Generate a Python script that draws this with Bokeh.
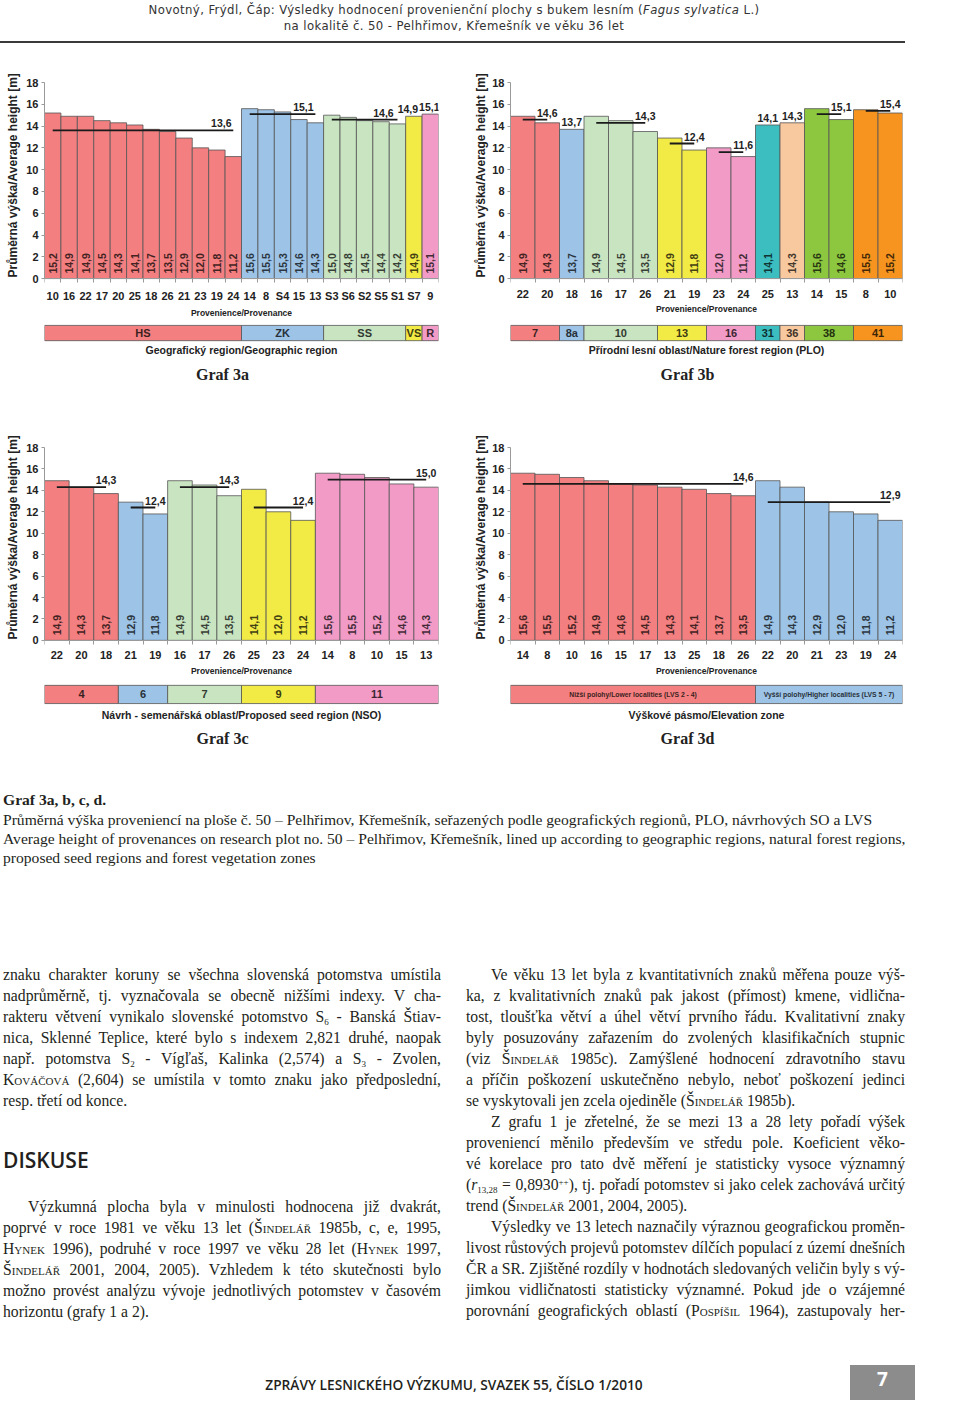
import numpy as np
from bokeh.plotting import figure
from bokeh.models import FixedTicker, Range1d, Div, ColumnDataSource, Title
from bokeh.layouts import column, row
from bokeh.embed import file_html
from bokeh.resources import INLINE
from bokeh.core.properties import value

# ---------------- data ----------------
# Graf 3a - geographic region
a_labels = ["10", "16", "22", "17", "20", "25", "18", "26", "21", "23", "19", "24",
            "14", "8", "S4", "15", "13", "S3", "S6", "S2", "S5", "S1", "S7", "9"]
a_values = [15.2, 14.9, 14.9, 14.5, 14.3, 14.1, 13.7, 13.5, 12.9, 12.0, 11.8, 11.2,
            15.6, 15.5, 15.3, 14.6, 14.3, 15.0, 14.8, 14.5, 14.4, 14.2, 14.9, 15.1]
a_groups = ["HS", "ZK", "SS", "VS", "R"]
a_sizes = [12, 5, 5, 1, 1]
a_means = [13.6, 15.1, 14.6, 14.9, 15.1]

# Graf 3b - natural forest region (PLO)
b_labels = ["22", "20", "18", "16", "17", "26", "21", "19", "23", "24", "25", "13", "14", "15", "8", "10"]
b_values = [14.9, 14.3, 13.7, 14.9, 14.5, 13.5, 12.9, 11.8, 12.0, 11.2, 14.1, 14.3, 15.6, 14.6, 15.5, 15.2]
b_groups = ["7", "8a", "10", "13", "16", "31", "36", "38", "41"]
b_sizes = [2, 1, 3, 2, 2, 1, 1, 2, 2]
b_means = [14.6, 13.7, 14.3, 12.4, 11.6, 14.1, 14.3, 15.1, 15.4]

# Graf 3c - proposed seed region (NSO)
c_labels = ["22", "20", "18", "21", "19", "16", "17", "26", "25", "23", "24", "14", "8", "10", "15", "13"]
c_values = [14.9, 14.3, 13.7, 12.9, 11.8, 14.9, 14.5, 13.5, 14.1, 12.0, 11.2, 15.6, 15.5, 15.2, 14.6, 14.3]
c_groups = ["4", "6", "7", "9", "11"]
c_sizes = [3, 2, 3, 3, 5]
c_means = [14.3, 12.4, 14.3, 12.4, 15.0]

# Graf 3d - elevation zone
d_labels = ["14", "8", "10", "16", "15", "17", "13", "25", "18", "26", "22", "20", "21", "23", "19", "24"]
d_values = [15.6, 15.5, 15.2, 14.9, 14.6, 14.5, 14.3, 14.1, 13.7, 13.5, 14.9, 14.3, 12.9, 12.0, 11.8, 11.2]
d_groups = ["Nižší polohy/Lower localities (LVS 2 - 4)", "Vyšší polohy/Higher localities (LVS 5 - 7)"]
d_sizes = [10, 6]
d_means = [14.6, 12.9]

y_ticks = [0, 2, 4, 6, 8, 10, 12, 14, 16, 18]

# ---------------- styles ----------------
RED = "#F37F80"
BLUE = "#9DC3E6"
LGREEN = "#C8E4C1"
YELLOW = "#F2EA45"
PINK = "#F29BC7"
TEAL = "#3CBEC0"
PEACH = "#F8C89F"
GREEN = "#8DC63F"
ORANGE = "#F6941F"

SANS = "Liberation Sans"
SERIF = "Liberation Serif"


def darken(h, f=0.28):
    h = h.lstrip("#")
    r, g, b = (int(h[i:i + 2], 16) for i in (0, 2, 4))
    return "#%02x%02x%02x" % (int(r * f), int(g * f), int(b * f))


def comma(v):
    return f"{v:.1f}".replace(".", ",")


def make_chart(labels, values, groups, sizes, means, colors, region_title, graf,
               width, height, ml, mr, mb, band, title_y, graf_y, ylab_standoff, ylab_offset,
               band_font="11px", mean_dx=None):
    n = len(labels)
    idx = list(range(n))
    sizes_a = np.array(sizes)
    starts = np.concatenate([[0], np.cumsum(sizes_a)[:-1]])
    ends = starts + sizes_a - 1
    bar_group = np.repeat(np.arange(len(groups)), sizes_a)
    bar_colors = [colors[g] for g in bar_group]
    if mean_dx is None:
        mean_dx = [0] * len(groups)

    p = figure(width=width, height=height, x_range=Range1d(-0.5, n - 0.5),
               y_range=Range1d(-10, 18), output_backend="svg", toolbar_location=None,
               tools="", min_border_left=ml, min_border_right=mr, min_border_top=12,
               min_border_bottom=mb, margin=0)
    p.outline_line_color = None
    p.grid.visible = False
    p.background_fill_color = "white"
    p.border_fill_color = "white"

    src = ColumnDataSource(dict(x=idx, top=values, color=bar_colors,
                                lab=[comma(v) for v in values],
                                tcol=[darken(c) for c in bar_colors]))
    p.vbar(x="x", top="top", bottom=0, width=1.0, fill_color="color",
           line_color="#555555", line_width=0.8, source=src)
    p.text(x="x", y=0, text="lab", angle=np.pi / 2, text_align="left",
           text_baseline="middle", y_offset=-5, text_color="tcol",
           text_font=value(SANS), text_font_style="bold", text_font_size="10.5px",
           source=src)

    # group means
    msrc = ColumnDataSource(dict(x0=starts, x1=ends, y=means,
                                 lab=[comma(m) for m in means], dx=mean_dx))
    p.segment(x0="x0", x1="x1", y0="y", y1="y", line_color="#1a1a1a",
              line_width=1.8, source=msrc)
    p.text(x="x1", y="y", text="lab", x_offset="dx", y_offset=-3,
           text_align="center", text_baseline="bottom", text_color="#222222",
           text_font=value(SANS), text_font_style="bold", text_font_size="10.5px",
           source=msrc)

    # group band
    bsrc = ColumnDataSource(dict(l=starts - 0.5, r=ends + 0.5, c=colors[:len(groups)],
                                 xm=(starts + ends) / 2.0, g=groups,
                                 tc=[darken(c, 0.25) for c in colors[:len(groups)]]))
    p.quad(left="l", right="r", bottom=band[0], top=band[1], fill_color="c",
           line_color="#555555", line_width=0.8, source=bsrc)
    p.text(x="xm", y=(band[0] + band[1]) / 2.0, text="g", text_align="center",
           text_baseline="middle", text_color="tc", text_font=value(SANS),
           text_font_style="bold", text_font_size=band_font, source=bsrc)

    xc = (n - 1) / 2.0
    p.text(x=[xc], y=[title_y], text=[region_title], text_align="center",
           text_baseline="middle", text_color="#222222", text_font=value(SANS),
           text_font_style="bold", text_font_size="10.5px")
    p.text(x=[xc], y=[graf_y], text=[graf], x_offset=-19, text_align="center",
           text_baseline="middle", text_color="#222222", text_font=value(SERIF),
           text_font_style="bold", text_font_size="16px")

    # axes
    xa = p.xaxis[0]
    xa.fixed_location = 0
    xa.ticker = FixedTicker(ticks=idx, minor_ticks=[i - 0.5 for i in range(n + 1)])
    xa.major_label_overrides = {i: lab for i, lab in enumerate(labels)}
    xa.axis_line_color = "#9a9a9a"
    xa.major_tick_line_color = None
    xa.major_tick_out = 0
    xa.major_tick_in = 0
    xa.minor_tick_line_color = "#9a9a9a"
    xa.minor_tick_out = 4
    xa.minor_tick_in = 0
    xa.major_label_standoff = 7
    xa.major_label_text_font = SANS
    xa.major_label_text_font_style = "bold"
    xa.major_label_text_font_size = "11px"
    xa.major_label_text_color = "#222222"
    xa.axis_label = "Provenience/Provenance"
    xa.axis_label_text_font = SANS
    xa.axis_label_text_font_style = "bold"
    xa.axis_label_text_font_size = "8.5px"
    xa.axis_label_text_color = "#222222"
    xa.axis_label_standoff = 3

    ya = p.yaxis[0]
    ya.ticker = FixedTicker(ticks=y_ticks)
    ya.bounds = (0, 18)
    ya.axis_line_color = "#9a9a9a"
    ya.major_tick_line_color = "#9a9a9a"
    ya.major_tick_out = 3
    ya.major_tick_in = 0
    ya.minor_tick_line_color = None
    ya.major_label_standoff = 3
    ya.major_label_text_font = SANS
    ya.major_label_text_font_style = "bold"
    ya.major_label_text_font_size = "11px"
    ya.major_label_text_color = "#222222"

    # vertical axis title, starting at the 0 level and reading upwards
    p.add_layout(Title(text="Průměrná výška/Average height [m]", align="left",
                       offset=ylab_offset, standoff=ylab_standoff, text_font=SANS,
                       text_font_style="bold", text_font_size="12px",
                       text_color="#222222"), "left")
    return p


fa = make_chart(a_labels, a_values, a_groups, a_sizes, a_means,
                [RED, BLUE, LGREEN, YELLOW, PINK],
                "Geografický region/Geographic region", "Graf 3a",
                width=470, height=365, ml=44, mr=32, mb=48,
                band=(-5.7, -4.3), title_y=-6.6, graf_y=-8.8,
                ylab_standoff=7, ylab_offset=110,
                mean_dx=[-12, -12, -14, -6, -1])
fb = make_chart(b_labels, b_values, b_groups, b_sizes, b_means,
                [RED, BLUE, LGREEN, YELLOW, PINK, TEAL, PEACH, GREEN, ORANGE],
                "Přírodní lesní oblast/Nature forest region (PLO)", "Graf 3b",
                width=438, height=365, ml=38, mr=6, mb=48,
                band=(-5.7, -4.3), title_y=-6.6, graf_y=-8.8,
                ylab_standoff=3, ylab_offset=110)
fc = make_chart(c_labels, c_values, c_groups, c_sizes, c_means,
                [RED, BLUE, LGREEN, YELLOW, PINK],
                "Návrh - semenářská oblast/Proposed seed region (NSO)", "Graf 3c",
                width=470, height=355, ml=44, mr=32, mb=43,
                band=(-5.9, -4.2), title_y=-7.0, graf_y=-9.15,
                ylab_standoff=7, ylab_offset=108)
fd = make_chart(d_labels, d_values, d_groups, d_sizes, d_means,
                [RED, BLUE],
                "Výškové pásmo/Elevation zone", "Graf 3d",
                width=438, height=355, ml=38, mr=6, mb=43,
                band=(-5.9, -4.2), title_y=-7.0, graf_y=-9.15,
                ylab_standoff=3, ylab_offset=108, band_font="6.8px")

# ---------------- text blocks ----------------
SC = '<span style="font-variant:small-caps">%s</span>'
SUB = '<sub style="font-size:9px;line-height:0;vertical-align:-3px">%s</sub>'
SUP = '<sup style="font-size:9px;line-height:0;vertical-align:5px">%s</sup>'

HDR = ('<div style="position:absolute;left:0;top:%gpx;width:908px;height:15px;text-align:center;'
       'font-family:\'DejaVu Sans Condensed\',\'DejaVu Sans\';font-stretch:condensed;'
       'font-size:13px;line-height:15px;letter-spacing:0.4px;color:#333;white-space:nowrap;">%s</div>')
header_html = (
    '<div style="position:relative;width:944px;height:70px;">'
    + HDR % (2, 'Novotný, Frýdl, Čáp: Výsledky hodnocení provenienční plochy s bukem lesním '
                '(<i>Fagus sylvatica</i> L.)')
    + HDR % (17.5, 'na lokalitě č. 50 - Pelhřimov, Křemešník ve věku 36 let')
    + '<div style="position:absolute;left:0;top:41px;width:905px;height:2px;background:#3a3a3a;"></div>'
    '</div>'
)
header = Div(text=header_html, width=944, height=70, margin=0)

BT = 790  # page y of bottom block top
BH = 636


def line(x, yc, html, w, lh=21, just=True, indent=0, size=15.7, fam=SERIF, extra=""):
    al = "text-align:justify;text-align-last:justify;" if just else "text-align:left;"
    return ('<div style="position:absolute;left:%gpx;top:%gpx;width:%gpx;height:%gpx;'
            'line-height:%gpx;font-family:\'%s\';font-size:%gpx;color:#231f20;'
            'white-space:nowrap;%s%s">%s</div>'
            % (x + indent, yc - lh / 2 - BT, w - indent, lh, lh, fam, size, al, extra, html))


parts = []
# caption
cap = [
    ("<b>Graf 3a, b, c, d.</b>", 800),
    ("Průměrná výška proveniencí na ploše č. 50 – Pelhřimov, Křemešník, seřazených podle "
     "geografických regionů, PLO, návrhových SO a LVS", 820),
    ("Average height of provenances on research plot no. 50 – Pelhřimov, Křemešník, lined up "
     "according to geographic regions, natural forest regions,", 839),
    ("proposed seed regions and forest vegetation zones", 858),
]
for t, y in cap:
    parts.append(line(3, y, t, 935, lh=19.5, just=False, size=15.6))

left_lines = [
    "znaku charakter koruny se všechna slovenská potomstva umístila",
    "nadprůměrně, tj. vyznačovala se obecně nižšími indexy. V cha-",
    "rakteru větvení vynikalo slovenské potomstvo S" + SUB % "6" + " - Banská Štiav-",
    "nica, Sklenné Teplice, které bylo s indexem 2,821 druhé, naopak",
    "např. potomstva S" + SUB % "2" + " - Vígľaš, Kalinka (2,574) a S" + SUB % "3" + " - Zvolen,",
    SC % "Kováčová" + " (2,604) se umístila v tomto znaku jako předposlední,",
    "resp. třetí od konce.",
]
for i, t in enumerate(left_lines):
    parts.append(line(3, 974 + 21 * i, t, 438, just=(i < len(left_lines) - 1)))

parts.append('<div style="position:absolute;left:3px;top:%gpx;font-family:\'Open Sans\';'
             'font-weight:600;font-size:21px;line-height:28px;color:#231f20;">DISKUSE</div>'
             % (1160 - 14 - BT))

para = [
    "Výzkumná plocha byla v minulosti hodnocena již dvakrát,",
    "poprvé v roce 1981 ve věku 13 let (" + SC % "Šindelář" + " 1985b, c, e, 1995,",
    SC % "Hynek" + " 1996), podruhé v roce 1997 ve věku 28 let (" + SC % "Hynek" + " 1997,",
    SC % "Šindelář" + " 2001, 2004, 2005). Vzhledem k této skutečnosti bylo",
    "možno provést analýzu vývoje jednotlivých potomstev v časovém",
    "horizontu (grafy 1 a 2).",
]
for i, t in enumerate(para):
    parts.append(line(3, 1206 + 21 * i, t, 438, just=(i < len(para) - 1),
                      indent=25 if i == 0 else 0))

right_lines = [
    ("Ve věku 13 let byla z kvantitativních znaků měřena pouze výš-", 1, True),
    ("ka, z kvalitativních znaků pak jakost (přímost) kmene, vidlična-", 0, True),
    ("tost, tloušťka větví a úhel větví prvního řádu. Kvalitativní znaky", 0, True),
    ("byly posuzovány zařazením do zvolených klasifikačních stupnic", 0, True),
    ("(viz " + SC % "Šindelář" + " 1985c). Zamýšlené hodnocení zdravotního stavu", 0, True),
    ("a příčin poškození uskutečněno nebylo, neboť poškození jedinci", 0, True),
    ("se vyskytovali jen zcela ojediněle (" + SC % "Šindelář" + " 1985b).", 0, False),
    ("Z grafu 1 je zřetelné, že se mezi 13 a 28 lety pořadí výšek", 1, True),
    ("proveniencí měnilo především ve středu pole. Koeficient věko-", 0, True),
    ("vé korelace pro tato dvě měření je statisticky vysoce významný", 0, True),
    ("(<i>r</i>" + SUB % "13,28" + " = 0,8930" + SUP % "++" +
     "), tj. pořadí potomstev si jako celek zachovává určitý", 0, True),
    ("trend (" + SC % "Šindelář" + " 2001, 2004, 2005).", 0, False),
    ("Výsledky ve 13 letech naznačily výraznou geografickou proměn-", 1, True),
    ("livost růstových projevů potomstev dílčích populací z území dnešních", 0, True),
    ("ČR a SR. Zjištěné rozdíly v hodnotách sledovaných veličin byly s vý-", 0, True),
    ("jimkou vidličnatosti statisticky významné. Pokud jde o vzájemné", 0, True),
    ("porovnání geografických oblastí (" + SC % "Pospíšil" + " 1964), zastupovaly her-", 0, True),
]
for i, (t, ind, j) in enumerate(right_lines):
    parts.append(line(466, 974 + 21 * i, t, 439, just=j, indent=25 if ind else 0))

# footer
parts.append('<div style="position:absolute;left:0;top:%gpx;width:908px;text-align:center;'
             'font-family:\'Open Sans\';font-weight:600;font-size:13.7px;line-height:18px;'
             'color:#231f20;white-space:nowrap;">ZPRÁVY LESNICKÉHO VÝZKUMU, SVAZEK 55, ČÍSLO 1/2010</div>'
             % (1385 - 9 - BT))
parts.append('<div style="position:absolute;left:850px;top:%gpx;width:65px;height:35px;'
             'background:#8c8c8c;color:white;font-family:\'Open Sans\';font-weight:700;'
             'font-size:19px;line-height:28px;text-align:center;">7</div>'
             % (1365 - BT))

bottom_html = ('<div style="position:relative;width:944px;height:%dpx;">' % BH + "".join(parts) + '</div>')
bottom = Div(text=bottom_html, width=944, height=BH, margin=0)

p = column(header, row(fa, fb, spacing=0), row(fc, fd, spacing=0), bottom, spacing=0)

open("out.html", "w").write(file_html(p, INLINE))
